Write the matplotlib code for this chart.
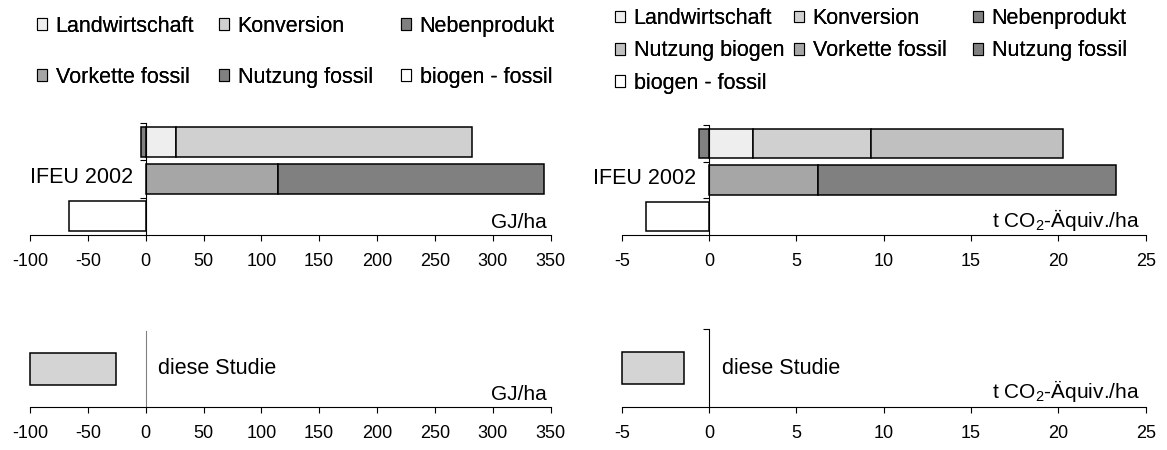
import matplotlib.pyplot as plt
from matplotlib.patches import Patch

plt.rcParams['font.family'] = ['Liberation Sans', 'DejaVu Sans']
plt.rcParams['axes.unicode_minus'] = False

# series colours (Excel greys)
colors = {
    "Landwirtschaft": "#eeeeee",
    "Konversion": "#d0d0d0",
    "Nebenprodukt": "#808080",
    "Nutzung biogen": "#c0c0c0",
    "Vorkette fossil": "#a6a6a6",
    "Nutzung fossil": "#808080",
    "biogen - fossil": "#ffffff",
}
studie_color = "#d4d4d4"

# IFEU 2002, energy (GJ/ha)
gj_bio_parts = ["Landwirtschaft", "Konversion", "Nebenprodukt"]
gj_bio = [26.2, 256.1, -4.3]
gj_fossil_parts = ["Vorkette fossil", "Nutzung fossil"]
gj_fossil = [114.6, 229.4]
gj_diff = -66.0

# IFEU 2002, greenhouse gas (t CO2-eq/ha)
co2_bio_parts = ["Landwirtschaft", "Konversion", "Nutzung biogen", "Nebenprodukt"]
co2_bio = [2.54, 6.72, 11.0, -0.57]
co2_fossil_parts = ["Vorkette fossil", "Nutzung fossil"]
co2_fossil = [6.24, 17.06]
co2_diff = -3.6

# diese Studie: bar runs from start to beyond the axis minimum
gj_studie = (-25.3, -100)
co2_studie = (-1.43, -5)

gj_ticks = [-100, -50, 0, 50, 100, 150, 200, 250, 300, 350]
co2_ticks = [-5, 0, 5, 10, 15, 20, 25]

legend_gj = ["Landwirtschaft", "Konversion", "Nebenprodukt",
             "Vorkette fossil", "Nutzung fossil", "biogen - fossil"]
legend_co2 = ["Landwirtschaft", "Konversion", "Nebenprodukt", "Nutzung biogen",
              "Vorkette fossil", "Nutzung fossil", "biogen - fossil"]

W, H = 1167, 450
fig = plt.figure(figsize=(W / 100, H / 100), dpi=100)


def px_axes(left, right, top, bottom):
    return fig.add_axes([left / W, 1 - bottom / H, (right - left) / W, (bottom - top) / H])


def stack_row(ax, y, names, values):
    pos, neg = 0, 0
    for name, v in zip(names, values):
        if v >= 0:
            ax.barh(y, v, left=pos, height=0.8, color=colors[name], edgecolor='black', linewidth=1.1)
            pos += v
        else:
            ax.barh(y, v, left=neg, height=0.8, color=colors[name], edgecolor='black', linewidth=1.1)
            neg += v


def style(ax, xlim, ticks, yticks, left_color='black'):
    ax.set_xlim(xlim)
    ax.set_xticks(ticks)
    ax.set_yticks(yticks)
    ax.tick_params(axis='x', direction='out', length=4, width=0.8, labelsize=13, pad=9)
    ax.tick_params(axis='y', direction='out', length=4, width=0.8, labelleft=False)
    for s in ['top', 'right']:
        ax.spines[s].set_visible(False)
    ax.spines['left'].set_position(('data', 0))
    ax.spines['left'].set_color(left_color)
    ax.spines['left'].set_linewidth(0.8)
    ax.spines['bottom'].set_linewidth(0.8)
    ax.patch.set_visible(False)


def legend_columns(names, x0, pitch, top, spacing):
    for j in range(3):
        col = names[j::3]
        handles = [Patch(facecolor=colors[n], edgecolor='black', linewidth=0.8) for n in col]
        leg = fig.legend(handles, col, loc='upper left', bbox_to_anchor=((x0 + j * pitch) / W, 1 - top / H),
                         frameon=False, fontsize=15.5, borderpad=0, borderaxespad=0,
                         handlelength=0.47, handleheight=0.47, handletextpad=0.4,
                         labelspacing=spacing)
        fig.add_artist(leg)


# top left: energy
ax_tl = px_axes(30, 550.5, 123, 235)
stack_row(ax_tl, 2, gj_bio_parts, gj_bio)
stack_row(ax_tl, 1, gj_fossil_parts, gj_fossil)
stack_row(ax_tl, 0, ["biogen - fossil"], [gj_diff])
ax_tl.set_ylim(-0.5, 2.5)
style(ax_tl, (-100, 350), gj_ticks, [0.5, 1.5, 2.5])
ax_tl.annotate('IFEU 2002', xy=(0, 1), xytext=(-9, 1), textcoords='offset points',
               ha='right', va='center', fontsize=15.5)
ax_tl.text(0.993, 0.06, 'GJ/ha', transform=ax_tl.transAxes, ha='right', va='baseline', fontsize=15)

# top right: greenhouse gas
ax_tr = px_axes(621.7, 1145.7, 125, 235)
stack_row(ax_tr, 2, co2_bio_parts, co2_bio)
stack_row(ax_tr, 1, co2_fossil_parts, co2_fossil)
stack_row(ax_tr, 0, ["biogen - fossil"], [co2_diff])
ax_tr.set_ylim(-0.5, 2.5)
style(ax_tr, (-5, 25), co2_ticks, [0.5, 1.5, 2.5])
ax_tr.annotate('IFEU 2002', xy=(0, 1), xytext=(-9, 1), textcoords='offset points',
               ha='right', va='center', fontsize=15.5)
ax_tr.text(0.988, 0.07, r't CO$_{\mathregular{2}}$-Äquiv./ha', transform=ax_tr.transAxes,
           ha='right', va='baseline', fontsize=15)

# bottom left: diese Studie, energy
ax_bl = px_axes(30, 550.5, 330.5, 407.3)
ax_bl.barh(0.5, gj_studie[1] - gj_studie[0], left=gj_studie[0], height=0.41,
           color=studie_color, edgecolor='black', linewidth=1.1, clip_on=False)
ax_bl.set_ylim(0, 1)
style(ax_bl, (-100, 350), gj_ticks, [1.0], left_color='#808080')
ax_bl.tick_params(axis='y', length=0)
ax_bl.annotate('diese Studie', xy=(0, 0.5), xytext=(9, 0), textcoords='offset points',
               ha='left', va='center', fontsize=15.5)
ax_bl.text(0.993, 0.1, 'GJ/ha', transform=ax_bl.transAxes, ha='right', va='baseline', fontsize=15)

# bottom right: diese Studie, greenhouse gas
ax_br = px_axes(621.7, 1145.7, 329, 407)
ax_br.barh(0.5, co2_studie[1] - co2_studie[0], left=co2_studie[0], height=0.41,
           color=studie_color, edgecolor='black', linewidth=1.1, clip_on=False)
ax_br.set_ylim(0, 1)
style(ax_br, (-5, 25), co2_ticks, [1.0])
ax_br.annotate('diese Studie', xy=(0, 0.5), xytext=(9, 0), textcoords='offset points',
               ha='left', va='center', fontsize=15.5)
ax_br.text(0.988, 0.11, r't CO$_{\mathregular{2}}$-Äquiv./ha', transform=ax_br.transAxes,
           ha='right', va='baseline', fontsize=15)

# legends, one per column so the columns keep an even pitch
legend_columns(legend_gj, 37, 182, 16, 1.39)
legend_columns(legend_co2, 615, 179, 8.2, 0.52)

fig.savefig('out.png', dpi=100)
